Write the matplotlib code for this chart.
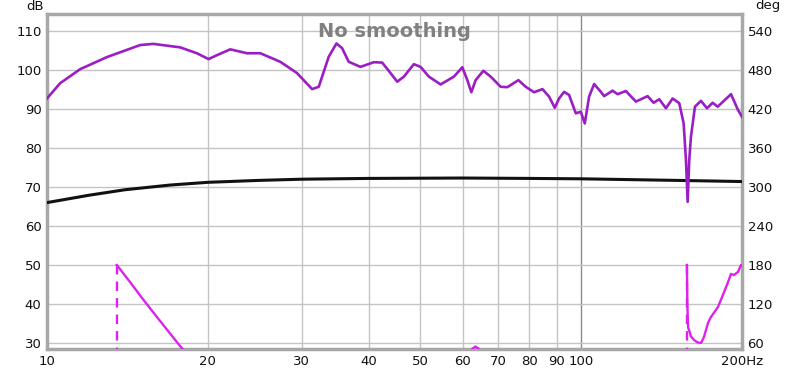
import matplotlib
matplotlib.use("Agg")
import matplotlib.pyplot as plt
import numpy as np

# ---------------- data ----------------
mag_freq = [10.0, 10.58, 11.53, 12.94, 14.94, 15.82, 17.76, 19.08, 20.06, 20.80,
            22.03, 23.00, 23.68, 25.08, 27.34, 29.38, 31.35, 32.26, 33.68, 34.82,
            35.68, 36.71, 38.62, 40.90, 42.41, 43.96, 45.25, 46.56, 48.61, 50.03,
            51.86, 54.55, 57.77, 59.90, 61.21, 62.27, 63.44, 65.58, 67.69, 70.67,
            72.74, 76.28, 78.72, 81.60, 84.61, 87.05, 89.22, 90.89, 92.88, 94.90,
            97.69, 99.81, 101.55, 103.46, 105.72, 108.82, 110.38, 114.46, 116.96, 121.22,
            126.57, 133.13, 136.62, 139.96, 144.06, 148.29, 152.58, 155.50, 157.05, 158.20,
            159.30, 160.48, 163.26, 167.55, 171.95, 176.23, 180.08, 190.72, 196.32, 200.0]
mag_db = [92.7, 96.6, 100.2, 103.3, 106.4, 106.7, 105.8, 104.3, 102.8, 103.8,
          105.3, 104.7, 104.3, 104.3, 102.1, 99.2, 95.1, 95.7, 103.4, 106.8,
          105.6, 102.1, 100.8, 102.0, 101.9, 99.2, 97.0, 98.3, 101.5, 100.8,
          98.3, 96.3, 98.3, 100.7, 97.4, 94.3, 97.4, 99.8, 98.3, 95.7,
          95.6, 97.4, 95.7, 94.3, 95.1, 93.2, 90.3, 92.7, 94.4, 93.6,
          88.9, 89.3, 86.3, 93.2, 96.4, 94.4, 93.3, 94.7, 93.8, 94.6,
          91.9, 93.3, 91.6, 92.5, 90.2, 92.7, 91.5, 86.3, 76.9, 66.2,
          76.9, 82.9, 90.6, 92.1, 90.2, 91.6, 90.6, 93.8, 89.9, 88.0]

ref_freq = [10, 12, 14, 17, 20, 25, 30, 40, 60, 80, 100, 150, 200]
ref_db = [66.0, 67.9, 69.3, 70.5, 71.2, 71.7, 72.0, 72.2, 72.3, 72.2, 72.1, 71.7, 71.4]

# phase (deg), first branch up to the wrap at 13.51 Hz
ph1_freq = [10.0, 12.0, 13.5]
ph1_deg = [-60.0, -140.0, -180.0]
# second branch: 13.51 Hz to 157.7 Hz
ph2_freq = [13.51, 14.31, 15.15, 16.06, 17.0, 17.83, 19.0, 20.0, 30.0, 45.0, 55.0,
            61.5, 62.5, 63.4, 64.3, 65.5, 70.0, 100.0, 140.0, 157.6]
ph2_deg = [180.0, 153.5, 126.5, 100.0, 74.5, 53.2, 30.0, 10.0, -40.0, 0.0, 20.0,
           40.0, 51.0, 54.5, 51.0, 40.0, 20.0, -60.0, -140.0, -180.0]
# third branch: after the wrap at 157.7 Hz
ph3_freq = [157.7, 158.0, 158.5, 159.1, 160.5, 162.6, 165.0, 167.6, 169.75, 172.7,
            174.95, 180.3, 184.2, 188.3, 190.7, 193.2, 196.6, 199.1, 200.0]
ph3_deg = [180.0, 120.0, 84.0, 80.0, 70.0, 64.6, 61.0, 60.0, 69.2, 90.8,
           100.0, 115.4, 133.8, 153.8, 166.2, 164.6, 169.4, 180.0, 179.0]
wrap_freqs = [13.51, 157.7]

xticks = [10, 20, 30, 40, 50, 60, 70, 80, 90, 100, 200]
xticklabels = ["10", "20", "30", "40", "50", "60", "70", "80", "90", "100", "200Hz"]
yticks = [30, 40, 50, 60, 70, 80, 90, 100, 110]
y2ticks = [60, 120, 180, 240, 300, 360, 420, 480, 540]

# ---------------- figure ----------------
plt.rcParams['font.family'] = ['DejaVu Sans']
fig = plt.figure(figsize=(8, 3.7), dpi=100)
ax = fig.add_axes([0.05875, 0.0568, 0.8688, 0.9067])
ylo, yhi = 28.46, 114.49
ax.set_xscale("log")
ax.set_xlim(10, 200)
ax.set_ylim(ylo, yhi)

ax2 = ax.twinx()
ax2.set_ylim(60 + (ylo - 30) * 6, 60 + (yhi - 30) * 6)
ax2.set_yticks(y2ticks)
ax2.tick_params(length=0, labelsize=9.5, colors="#111111", pad=4)
for s in ax2.spines.values():
    s.set_visible(False)

grid_c = "#c4c4c4"
for t in xticks[1:-1]:
    ax.axvline(t, color="#8a8a8a" if t == 100 else grid_c, lw=1.0, zorder=0)
for t in yticks:
    ax.axhline(t, color=grid_c, lw=1.0, zorder=0)

ax.set_xticks(xticks)
ax.set_xticklabels(xticklabels)
ax.xaxis.set_minor_locator(matplotlib.ticker.NullLocator())
ax.set_yticks(yticks)
ax.tick_params(length=0, labelsize=9.5, colors="#111111", pad=4)
ax.tick_params(axis="x", which="both", length=0)
for s in ax.spines.values():
    s.set_color("#a8a8a8")
    s.set_linewidth(2.5)

mag_c = "#9a1ec4"
ph_c = "#dc22ec"
ax.plot(ref_freq, ref_db, color="#111111", lw=2.2, zorder=3, solid_joinstyle="round")
ax.plot(mag_freq, mag_db, color=mag_c, lw=1.9, zorder=4, solid_joinstyle="round")

for fr, dg in [(ph1_freq, ph1_deg), (ph2_freq, ph2_deg), (ph3_freq, ph3_deg)]:
    ax2.plot(fr, dg, color=ph_c, lw=1.7, solid_joinstyle="round")
for f in wrap_freqs:
    ax2.plot([f, f], [180, -180], color=ph_c, lw=1.7, ls=(0, (4, 3)))

ax.text(0.5, 0.975, "No smoothing", transform=ax.transAxes, ha="center", va="top",
        fontsize=14, fontweight="bold", color="#808080", zorder=5)
fig.text(35 / 800, 1 - 6 / 370, "dB", ha="center", va="center", fontsize=9.5, color="#111111")
fig.text(768 / 800, 1 - 6 / 370, "deg", ha="center", va="center", fontsize=9.5, color="#111111")

fig.savefig("out.png", dpi=100)
